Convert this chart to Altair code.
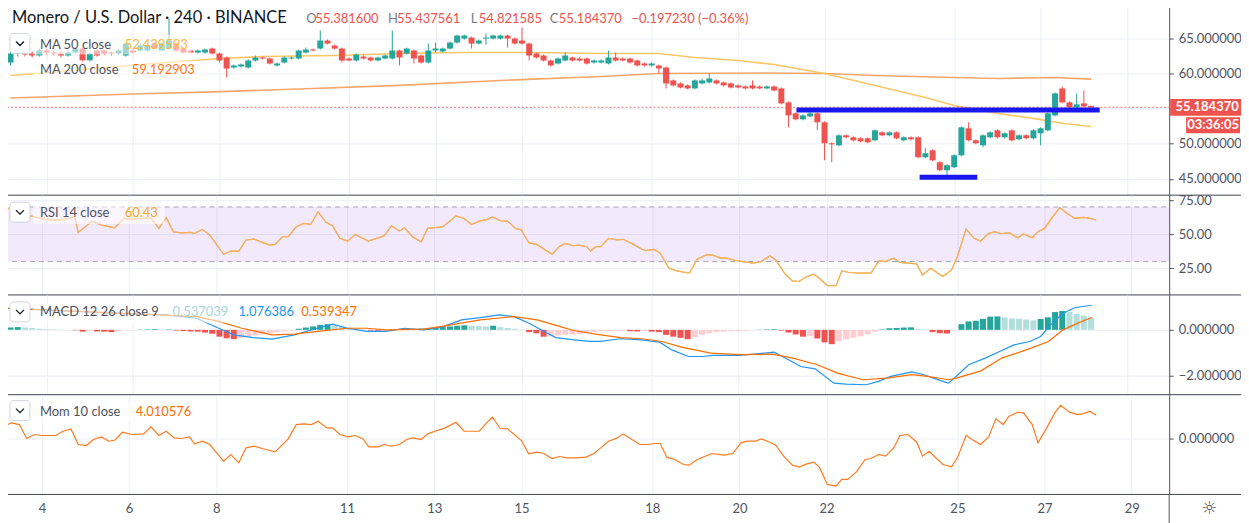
import altair as alt
import numpy as np
import pandas as pd

# ---------------- data ----------------
OPEN = [61.56, 62.84, 62.98, 62.84, 62.56, 63.27, 62.98, 62.84, 62.56, 62.98,
        63.55, 61.85, 63.27, 63.27, 62.98, 62.84, 62.56, 63.27, 63.27, 63.27,
        64.26, 63.27, 63.55, 64.26, 63.55, 63.27, 62.98, 62.98, 63.55, 62.84,
        62.27, 60.85, 60.99, 60.85, 61.85, 62.27, 62.13, 61.14, 61.56, 62.13,
        62.13, 62.98, 63.41, 63.55, 64.69, 63.98, 63.55, 62.13, 61.85, 62.41,
        62.27, 61.85, 62.13, 62.13, 63.27, 62.84, 63.27, 62.56, 61.56, 63.27,
        63.13, 63.55, 64.40, 64.97, 65.11, 64.26, 64.97, 64.97, 64.97, 65.40,
        64.97, 64.69, 64.26, 62.84, 62.56, 61.85, 61.42, 61.85, 62.27, 62.13,
        62.13, 61.56, 61.56, 61.42, 62.27, 62.13, 62.13, 61.85, 61.42, 61.14,
        61.14, 60.85, 59.01, 58.58, 58.30, 57.87, 58.58, 58.72, 59.01, 58.72,
        58.58, 58.30, 58.15, 58.30, 58.15, 57.87, 58.15, 57.87, 55.88, 54.32,
        53.47, 53.89, 54.32, 53.04, 50.06, 49.77, 51.19, 50.91, 50.77, 50.77,
        50.48, 51.62, 51.19, 51.62, 50.48, 50.91, 50.91, 48.07, 49.06, 47.36,
        46.22, 46.65, 48.35, 52.19, 50.48, 49.77, 50.91, 51.90, 50.91, 51.90,
        50.63, 51.19, 50.77, 51.48, 51.90, 54.03, 57.87, 55.88, 55.17, 55.74,
        55.38]
CLOSE = [62.84, 62.98, 62.70, 62.56, 63.27, 62.98, 62.84, 62.56, 62.98, 63.55,
         61.85, 62.84, 62.56, 62.84, 62.84, 63.27, 64.26, 62.98, 63.98, 63.98,
         63.55, 64.26, 64.69, 63.27, 62.98, 62.98, 63.27, 63.41, 62.84, 61.85,
         60.71, 61.14, 61.28, 61.85, 62.27, 62.13, 61.42, 61.42, 62.27, 62.27,
         63.27, 63.41, 63.27, 64.69, 64.26, 63.55, 61.85, 61.85, 62.70, 62.13,
         61.85, 62.27, 62.56, 63.27, 62.27, 63.55, 62.13, 61.56, 63.27, 63.55,
         63.55, 64.40, 65.40, 65.40, 64.26, 64.69, 65.11, 65.40, 65.40, 64.97,
         64.26, 64.26, 62.56, 62.27, 61.85, 61.14, 62.13, 62.56, 61.85, 61.85,
         61.42, 61.85, 61.85, 62.27, 61.85, 61.85, 61.56, 61.14, 61.14, 61.42,
         60.71, 58.58, 58.30, 58.01, 57.87, 59.01, 59.01, 59.29, 58.58, 58.30,
         58.01, 58.01, 57.87, 57.87, 57.87, 58.15, 57.59, 55.74, 54.03, 53.47,
         54.03, 54.32, 53.04, 50.06, 49.91, 51.19, 50.91, 50.48, 50.34, 50.20,
         51.90, 51.19, 51.62, 50.77, 50.91, 50.63, 48.07, 48.64, 47.64, 46.22,
         46.93, 48.35, 52.33, 50.48, 50.06, 51.19, 51.62, 50.91, 51.48, 50.48,
         51.19, 50.77, 51.90, 52.19, 54.32, 57.16, 55.88, 55.17, 55.60, 55.31,
         55.18]
HIGH = [63.55, 63.27, 63.13, 63.13, 63.55, 63.55, 63.27, 63.13, 63.27, 63.69,
        63.69, 62.98, 63.41, 63.41, 63.13, 63.41, 64.40, 63.55, 64.26, 64.12,
        64.40, 64.40, 67.81, 64.40, 63.69, 63.41, 63.41, 63.55, 63.69, 62.98,
        62.41, 61.28, 61.42, 61.99, 62.56, 62.41, 62.27, 61.56, 62.41, 62.41,
        63.41, 63.69, 63.55, 66.11, 64.83, 64.12, 63.69, 62.27, 62.84, 62.56,
        62.41, 62.41, 62.70, 66.11, 63.41, 63.69, 63.41, 62.70, 64.26, 64.40,
        63.69, 64.55, 65.54, 65.54, 65.25, 64.83, 65.68, 65.54, 65.54, 65.54,
        65.11, 66.53, 64.40, 62.98, 62.70, 61.99, 62.27, 62.98, 62.41, 62.27,
        62.27, 61.99, 61.99, 63.27, 62.98, 62.27, 62.27, 61.99, 61.56, 61.56,
        61.28, 60.99, 59.15, 58.72, 58.44, 59.15, 59.29, 60.00, 59.15, 58.86,
        58.72, 58.44, 58.30, 59.01, 58.30, 58.30, 58.30, 58.01, 56.02, 54.46,
        54.18, 55.03, 54.46, 53.18, 50.20, 51.33, 51.33, 51.05, 50.91, 50.91,
        52.05, 51.76, 51.76, 51.76, 51.05, 51.05, 51.05, 49.35, 49.20, 47.50,
        47.07, 48.50, 52.47, 53.04, 50.63, 51.33, 51.76, 52.05, 51.62, 52.05,
        51.33, 51.33, 52.05, 52.33, 54.46, 57.30, 58.15, 56.02, 57.16, 57.59,
        55.44]
LOW = [61.14, 62.41, 62.41, 62.27, 62.41, 62.70, 62.56, 62.27, 62.41, 62.84,
       61.56, 61.56, 62.41, 62.56, 62.56, 62.70, 62.41, 62.84, 63.13, 63.13,
       63.41, 63.13, 63.41, 63.13, 62.84, 62.84, 62.84, 62.84, 62.70, 61.56,
       59.43, 60.71, 60.85, 60.71, 61.71, 61.99, 61.28, 60.99, 61.42, 61.99,
       61.99, 62.84, 63.13, 63.41, 64.12, 63.41, 61.56, 61.71, 61.71, 61.99,
       61.71, 61.71, 61.99, 61.99, 61.14, 62.70, 61.42, 61.42, 61.42, 62.98,
       62.98, 63.41, 64.26, 64.83, 63.55, 64.12, 64.12, 64.83, 64.83, 63.69,
       64.12, 64.12, 61.85, 62.13, 61.71, 60.99, 61.28, 61.71, 61.71, 61.71,
       61.28, 61.42, 61.42, 61.28, 61.71, 61.71, 61.42, 60.99, 60.99, 60.99,
       60.00, 57.87, 58.15, 57.87, 57.73, 57.73, 58.44, 58.58, 58.44, 58.15,
       57.87, 57.87, 57.73, 57.73, 57.73, 57.73, 57.44, 55.60, 52.33, 53.33,
       53.33, 53.75, 51.90, 47.64, 47.36, 49.63, 50.77, 50.34, 50.20, 50.06,
       50.34, 51.05, 51.05, 50.63, 50.34, 50.48, 47.93, 47.93, 47.50, 46.08,
       45.23, 46.51, 48.21, 50.34, 49.91, 49.49, 50.77, 50.77, 50.77, 50.34,
       50.48, 50.63, 50.63, 49.77, 51.76, 53.89, 55.74, 55.03, 55.03, 55.17,
       54.82]

# moving averages (candle index, value)
MA50_I = [0, 7, 13, 20, 29, 35, 45, 54, 63, 72, 82, 90, 95, 101, 106, 113, 120, 127, 131, 137, 142, 146, 150]
MA50_V = [59.72, 60.28, 60.85, 61.42, 62.13, 62.41, 62.56, 62.84, 62.98, 62.98, 62.84, 62.84, 62.27, 61.85,
          61.28, 60.00, 58.30, 56.59, 55.45, 54.32, 53.61, 52.90, 52.44]
MA200_I = [0, 18, 27, 41, 54, 68, 82, 90, 105, 113, 120, 131, 137, 145, 150]
MA200_V = [56.50, 57.11, 57.34, 57.83, 58.30, 59.01, 59.57, 60.00, 60.07, 60.00, 59.72, 59.43, 59.29, 59.43, 59.19]

RSI_I = [-0.4, 0.8, 2.1, 4.0, 5.3, 6.9, 8.2, 9.5, 10.0, 11.9, 13.2, 15.0, 16.3, 17.6, 20.0, 21.1, 22.1, 23.1,
         24.2, 25.5, 26.0, 27.1, 28.1, 30.0, 31.0, 32.1, 33.1, 34.2, 36.3, 37.1, 38.1, 38.9, 40.0, 41.0, 42.0,
         43.0, 44.1, 45.0, 46.0, 47.1, 48.1, 49.9, 51.3, 52.1, 53.1, 54.2, 54.9, 56.0, 57.2, 58.1, 60.2, 62.0,
         63.1, 64.1, 65.2, 66.3, 67.0, 68.1, 69.1, 70.2, 71.0, 72.0, 73.1, 75.2, 76.2, 77.0, 78.1, 78.9, 80.0,
         80.5, 81.2,
         81.9, 83.0, 84.2, 85.0, 86.4, 87.6, 88.1, 89.3, 90.1, 91.3, 92.4, 94.1, 95.2, 96.4, 97.2, 98.4, 99.2,
         100.4, 101.5, 102.9, 104.0, 105.2, 106.0, 107.2, 108.3, 109.2, 110.3, 111.2, 112.0, 113.1, 114.3,
         115.1, 116.0, 117.4, 119.1, 120.2, 121.1, 122.2, 123.1, 124.2, 125.4, 126.2, 127.3, 129.0, 130.2,
         131.0, 132.2, 133.3, 134.2, 135.3, 136.2, 137.0, 138.1, 139.3, 140.1, 141.3, 142.1, 143.0, 144.1,
         145.1, 146.1, 147.2, 148.4, 149.2, 150.1]
RSI_V = [66.5, 70.1, 65.3, 62.8, 61.1, 60.4, 61.1, 62.8, 51.4, 59.6, 56.7, 54.8, 61.6, 61.1, 62.1, 54.3, 62.1, 51.8,
         51.1, 51.4, 50.6, 53.6, 49.4, 35.3, 37.7, 37.7, 45.8, 46.5, 42.1, 42.6, 48.2, 48.2, 55.5, 58.0, 57.2,
         66.5, 58.7, 56.2, 47.0, 45.0, 49.9, 45.0, 47.4, 48.9, 56.2, 52.3, 54.8, 48.2, 44.5, 54.3, 55.5, 63.5,
         61.6, 57.2, 59.6, 60.9, 62.8, 59.9, 59.6, 54.3, 53.1, 43.8, 42.6, 35.3, 40.9, 43.3, 41.6, 42.1, 40.9,
         37.7, 40.9,
         40.9, 47.0, 45.8, 46.3, 42.6, 39.0, 38.0, 39.0, 36.1, 25.1, 23.2, 21.5, 31.7, 34.9, 34.9, 32.5, 32.5,
         30.8, 30.0, 28.8, 30.0, 34.2, 31.2, 21.5, 15.9, 15.4, 19.0, 20.7, 17.8, 12.4, 12.4,
         23.2, 22.2, 21.5, 21.5, 30.5, 30.0, 32.5, 29.3, 28.8, 28.3, 20.2, 25.1, 19.0, 23.9,
         33.7, 53.9, 47.0, 45.1, 50.7, 51.9, 50.4, 51.2, 47.5, 50.2, 47.5, 51.9, 54.3, 62.8,
         69.6, 65.3, 61.6, 62.4, 61.6, 60.43]
RSI_LEVELS = [30, 70]

MACD_I = [-0.4, 4.8, 10.0, 15.3, 21.6, 25.8, 28.9, 31.0, 33.7, 36.3, 39.4, 42.6, 44.7, 46.8, 49.4, 52.1, 54.7,
          57.3, 59.9, 62.6, 65.2, 67.8, 69.9, 72.0, 74.1, 75.7, 78.3, 80.4,
          81.9, 84.7, 87.6, 90.1, 91.8, 94.1, 96.1, 97.5, 101.2, 102.3, 106.0, 108.0, 109.7, 111.7, 114.3,
          116.0, 118.8, 120.5, 122.2, 125.1, 126.8, 129.1, 130.2, 131.3, 133.0, 135.3, 137.3, 139.3, 141.5,
          143.0, 144.4, 146.1, 147.8, 150.1]
MACD_V = [0.95, 0.88, 0.80, 0.72, 0.66, 0.51, 0.07, -0.22, -0.34, -0.41, -0.22, 0.07, 0.25, 0.07, -0.07, -0.07,
          0.07, 0.00, 0.12, 0.44, 0.54, 0.66, 0.58, 0.29, -0.07, -0.34, -0.44, -0.51,
          -0.51, -0.39, -0.44, -0.54, -0.88, -1.17, -1.17, -1.12, -1.12, -1.09, -0.98, -1.31, -1.61, -1.71,
          -2.34, -2.38, -2.41, -2.26, -2.04, -1.85, -1.97, -2.23, -2.34, -2.04, -1.53, -1.24, -0.95, -0.66,
          -0.51, -0.29, 0.22, 0.73, 0.98, 1.08]
SIG_I = [-0.4, 10.0, 20.5, 25.8, 28.9, 32.1, 36.3, 39.4, 42.6, 46.8, 49.4, 52.1, 57.3, 59.9, 65.2, 69.9, 73.1,
         76.2, 78.3, 81.9, 84.7, 87.6, 90.4, 93.3, 97.2, 101.2, 105.8, 108.6, 112.0, 114.8, 118.3, 121.7,
         125.1, 127.3, 130.2, 131.3, 134.7, 137.6, 141.0, 144.1, 146.1, 148.4, 150.1]
SIG_V = [0.95, 0.80, 0.66, 0.58, 0.37, 0.07, -0.22, -0.19, -0.07, 0.07, 0.07, 0.00, 0.03, 0.15, 0.44, 0.58, 0.44,
         0.15, -0.04, -0.22, -0.34, -0.39, -0.51, -0.77, -1.02, -1.09, -1.07, -1.24, -1.53, -1.90, -2.19, -2.12,
         -1.97, -2.04, -2.19, -2.12, -1.80, -1.24, -0.88, -0.51, 0.00, 0.33, 0.54]
HIST = [0.10, 0.12, 0.10, 0.08, 0.05, 0.03, 0.02, 0.01, 0.00, -0.02,
        -0.08, -0.05, -0.07, -0.08, -0.10, -0.05, -0.02, 0.00, 0.01, 0.02,
        0.03, 0.01, 0.02, -0.03, -0.05, -0.07, -0.08, -0.12, -0.17, -0.30,
        -0.37, -0.41, -0.35, -0.30, -0.25, -0.20, -0.15, -0.10, -0.06, -0.02,
        0.05, 0.10, 0.15, 0.22, 0.25, 0.20, 0.15, 0.10, 0.05, 0.02,
        -0.03, -0.04, -0.02, 0.02, 0.03, 0.03, 0.04, 0.06, 0.08, 0.10,
        0.12, 0.15, 0.18, 0.20, 0.17, 0.16, 0.15, 0.18, 0.12, 0.08,
        0.05, 0.01, -0.10, -0.15, -0.30, -0.28, -0.25, -0.22, -0.20, -0.18,
        -0.12, -0.10, -0.08, -0.06, -0.05, -0.04, -0.06, -0.07, -0.05, -0.08,
        -0.10, -0.22, -0.30, -0.35, -0.41, -0.32, -0.22, -0.15, -0.10, -0.08,
        -0.06, -0.05, -0.03, -0.01, 0.01, 0.02, 0.03, -0.03, -0.12, -0.20,
        -0.30, -0.28, -0.38, -0.55, -0.63, -0.50, -0.42, -0.35, -0.28, -0.20,
        -0.08, 0.02, 0.07, 0.08, 0.10, 0.11, 0.04, 0.02, -0.10, -0.15,
        -0.16, -0.03, 0.25, 0.37, 0.40, 0.48, 0.58, 0.59, 0.55, 0.50,
        0.49, 0.45, 0.42, 0.48, 0.55, 0.78, 0.83, 0.78, 0.70, 0.62,
        0.54]

MOM_I = [-0.4, 0.8, 1.9, 2.9, 4.0, 5.0, 6.9, 7.9, 9.0, 10.0, 11.1, 12.1, 13.2, 14.2, 15.0, 16.1, 17.4, 19.0,
         20.0, 21.1, 22.1, 23.2, 24.2, 25.3, 26.0, 27.1, 28.1, 30.0, 31.0, 32.1, 33.1, 34.2, 35.8, 37.1, 38.9,
         40.0, 41.0, 42.1, 43.0, 44.2, 45.0, 46.0, 47.1, 48.1, 49.2, 50.0, 51.3, 52.1, 53.1, 54.2, 55.2, 56.0,
         57.2, 58.1, 59.4, 60.5, 62.0, 63.1, 65.2, 66.2, 67.0, 68.1, 69.1, 71.0, 72.0, 73.1, 74.1, 75.2, 76.2,
         77.3, 78.3, 79.9, 81.0, 81.9,
         83.0, 84.2, 85.0, 86.2, 87.3, 88.4, 89.3, 90.1, 91.0, 92.1, 93.3, 94.1, 95.2, 97.2, 98.9, 100.1, 101.2,
         102.1, 103.2, 104.0, 105.2, 106.0, 107.2, 108.3, 109.2, 110.3, 111.2, 112.0, 113.1, 114.3, 115.1,
         115.9, 117.1, 118.3, 119.1, 120.2, 121.1, 122.2, 123.1, 124.2, 125.4, 126.2, 127.1, 129.0, 130.2,
         131.0, 132.2, 133.0, 134.2, 135.3, 136.3, 137.3, 138.1, 139.3, 140.1, 141.3, 142.1, 143.3, 144.4,
         145.2, 146.4, 147.5, 148.4, 149.2, 150.1]
MOM_V = [2.04, 2.72, 2.43, 0.06, 0.74, 0.57, 0.57, 1.30, 1.70, -0.96, -1.13, -0.11, 0.34, -0.40, -0.23, 1.13,
         0.74, 0.85, 2.04, 0.57, 1.30, 0.17, 0.06, 0.34, -0.85, -0.40, -0.96, -3.79, -2.66, -4.08, -1.53, -1.25,
         -1.81, -2.21, 0.00, 2.43, 2.55, 2.43, 3.00, 1.87, 1.87, 0.74, 0.34, 0.57, 0.00, -1.36, -1.36, -0.96,
         -1.25, -0.96, -0.11, 0.17, -0.11, 0.85, 1.42, 1.87, 2.83, 1.30, 1.30, 2.72, 3.68, 1.76, 1.70, -0.28,
         -2.55, -2.27, -2.49, -3.34, -3.00, -3.23, -3.23, -3.11, -2.49, -1.53,
         -0.40, 0.17, 0.85, -0.11, -0.96, -0.96, -0.79, -0.79, -3.11, -3.51, -4.36, -4.47, -3.51, -2.49, -2.77,
         -2.49, -0.68, -0.40, -0.40, 0.00, -0.57, -1.08, -3.11, -4.47, -4.81, -4.25, -3.96, -4.81, -7.76, -8.04,
         -6.91, -6.91, -5.61, -3.51, -3.34, -2.66, -2.94, -1.64, 0.57, 0.74, -0.57, -2.94, -2.10, -4.36, -4.76,
         -3.23, 0.57, -0.11, -0.96, 0.34, 3.40, 2.43, 3.85, 4.53, 4.42, 2.43, -0.68, 1.87, 4.42, 5.72, 4.59,
         4.13, 4.30, 4.70, 4.01]

# drawn horizontal levels (start index, end index, price)
LEVEL_I1 = [109.1, 126.2]
LEVEL_I2 = [151.2, 134.2]
LEVEL_P = [54.79, 45.23]

DAY_LABELS = [4, 6, 8, 11, 13, 15, 18, 20, 22, 25, 27, 29]
PRICE_TICKS = [45, 50, 55, 60, 65, 70]
RSI_TICKS = [25, 50, 75]
MACD_TICKS = [-2, 0]
MOM_TICKS = [0]
LAST_PRICE = 55.184370

# ---------------- styling / layout ----------------
FONT = "Lato"
W = 1170
H_PRICE, H_SUB = 195, 100
FULL_W = 1249
SEP = "#434651"
AX = "#50535e"
UP, DOWN = "#26a69a", "#ef5350"

n = len(CLOSE)
candles = pd.DataFrame({"i": np.arange(n), "open": OPEN, "high": HIGH, "low": LOW, "close": CLOSE})
candles["dir"] = np.where(candles["close"] >= candles["open"], "up", "down")

hist = pd.DataFrame({"i": np.arange(len(HIST)), "h": HIST})
prev = hist["h"].shift(1).fillna(-1)
hist["c"] = np.where(hist["h"] >= 0,
                     np.where(hist["h"] >= prev, "pu", "pd"),
                     np.where(hist["h"] <= prev, "nd", "nu"))

tick_idx = [6 * d - 19 for d in DAY_LABELS]
XS = alt.Scale(domain=[-0.49, 160.15], nice=False, zero=False)
X_GRID = alt.Axis(values=tick_idx, labels=False, ticks=False, tickSize=0, domain=False, grid=True, title=None)
X_BOTTOM = alt.Axis(values=tick_idx, labelExpr="format((datum.value + 19) / 6, 'd')", ticks=False, tickSize=0,
                    domain=False, grid=True, title=None, labelPadding=8, labelFontSize=13)

PS = alt.Scale(domain=[42.67, 70.37], nice=False, zero=False)
RS = alt.Scale(domain=[5.56, 78.65], nice=False, zero=False)
MS = alt.Scale(domain=[-2.847, 1.533], nice=False, zero=False)
OS = alt.Scale(domain=[-9.46, 7.52], nice=False, zero=False)


def yaxis(values, fmt=".6f", expr=None):
    kw = dict(orient="right", values=values, title=None, grid=True, tickSize=4, labelPadding=5, domain=True)
    if expr:
        kw["labelExpr"] = expr
    else:
        kw["format"] = fmt
    return alt.Axis(**kw)


Y_PRICE = yaxis(PRICE_TICKS, expr="datum.value == 55 ? '' : format(datum.value, '.6f')")
Y_RSI = yaxis(RSI_TICKS, fmt=".2f")
Y_MACD = yaxis(MACD_TICKS)
Y_MOM = yaxis(MOM_TICKS)

ONE = pd.DataFrame({"k": [0]})


def txt(text, x, y, color, size=13, weight="normal", align="left", font=FONT):
    return alt.Chart(ONE).mark_text(text=text, align=align, baseline="middle", font=font, fontSize=size,
                                    fontWeight=weight, color=color).encode(x=alt.value(x), y=alt.value(y))


def rect(x1, x2, y1, y2, fill, opacity=1.0, stroke=None, radius=0):
    kw = dict(fill=fill, opacity=opacity, cornerRadius=radius)
    if stroke:
        kw.update(stroke=stroke, strokeWidth=1)
    else:
        kw.update(strokeWidth=0)
    return alt.Chart(ONE).mark_rect(**kw).encode(x=alt.value(x1), x2=alt.value(x2), y=alt.value(y1),
                                                 y2=alt.value(y2))


def chevron(ytop):
    b = rect(8, 28, ytop, ytop + 20, "#ffffff", stroke="#d1d4dc", radius=3)
    c = alt.Chart(ONE).mark_point(shape="M-1,-0.5L0,0.5L1,-0.5", size=64, filled=False, strokeWidth=1.3,
                                  color="#131722", opacity=1).encode(x=alt.value(18), y=alt.value(ytop + 10))
    return [b, c]


def separator(h):
    return alt.Chart(ONE).mark_rule(color=SEP, strokeWidth=1).encode(x=alt.value(1), x2=alt.value(FULL_W),
                                                                      y=alt.value(h))


# ---------------- price panel ----------------
ma50 = pd.DataFrame({"i": MA50_I, "v": MA50_V})
ma200 = pd.DataFrame({"i": MA200_I, "v": MA200_V})
lvl = pd.DataFrame({"i1": LEVEL_I1, "i2": LEVEL_I2, "p": LEVEL_P})
last = pd.DataFrame({"p": [LAST_PRICE]})

dir_color = alt.Color("dir:N", scale=alt.Scale(domain=["up", "down"], range=[UP, DOWN]), legend=None)


def PX(f):
    return alt.X(f"{f}:Q", scale=XS, axis=X_GRID)


def PY(f):
    return alt.Y(f"{f}:Q", scale=PS, axis=Y_PRICE)


l_ma200 = alt.Chart(ma200).mark_line(color="#f9a66b", strokeWidth=1.6).encode(x=PX("i"), y=PY("v"))
l_ma50 = alt.Chart(ma50).mark_line(color="#fcc766", strokeWidth=1.6).encode(x=PX("i"), y=PY("v"))
l_last = alt.Chart(last).mark_rule(color=DOWN, strokeDash=[2, 2], strokeWidth=1, opacity=0.8).encode(
    y=PY("p"), x=alt.value(1), x2=alt.value(W))
wicks = alt.Chart(candles).mark_rule(strokeWidth=1).encode(x=PX("i"), y=PY("low"), y2="high:Q", color=dir_color)
bodies = alt.Chart(candles).mark_bar(size=6).encode(x=PX("i"), y=PY("open"), y2="close:Q", color=dir_color)
levels = alt.Chart(lvl).mark_rule(color="#1818ee", strokeWidth=5).encode(x=PX("i1"), x2="i2:Q", y=PY("p"))

price_box = alt.Chart(last).mark_point(shape="M-1,-0.215H1V0.215H-1Z", size=78 * 78, filled=True, opacity=1,
                                       color=DOWN, strokeWidth=0).encode(x=alt.value(1210), y=PY("p"))
price_txt = alt.Chart(last).mark_text(text="55.184370", font=FONT, fontSize=13, fontWeight="bold", color="white",
                                      align="center", baseline="middle").encode(x=alt.value(1208), y=PY("p"))
timer_box = alt.Chart(last).mark_point(shape="M-1,-0.3H1V0.3H-1Z", size=54 * 54, filled=True, opacity=1,
                                       color=DOWN, strokeWidth=0, yOffset=18).encode(x=alt.value(1214), y=PY("p"))
timer_txt = alt.Chart(last).mark_text(text="03:36:05", font=FONT, fontSize=13, fontWeight="bold", color="white",
                                      align="center", baseline="middle", yOffset=18).encode(
    x=alt.value(1214), y=PY("p"))

price_layers = [
    l_ma200, l_ma50, l_last, wicks, bodies, levels,
    rect(31, 190, 34, 54, "#ffffff", opacity=0.55),
    rect(31, 196, 60, 80, "#ffffff", opacity=0.55),
    *chevron(33),
    txt("Monero / U.S. Dollar · 240 · BINANCE", 10, 17, "#131722", size=16.5),
    txt("O", 305, 18, "#787b86"), txt("55.381600", 314, 18, DOWN),
    txt("H", 387, 18, "#787b86"), txt("55.437561", 396, 18, DOWN),
    txt("L", 470, 18, "#787b86"), txt("54.821585", 478, 18, DOWN),
    txt("C", 549, 18, "#787b86"), txt("55.184370", 558, 18, DOWN),
    txt("−0.197230 (−0.36%)", 631, 18, DOWN),
    txt("MA 50 close", 38, 44, "#4c525e"), txt("52.439593", 123, 44, "#f6b73c"),
    txt("MA 200 close", 38, 70, "#4c525e"), txt("59.192903", 130, 70, "#ff7517"),
    price_box, price_txt, timer_box, timer_txt,
    separator(H_PRICE),
]
price_panel = alt.layer(*price_layers).properties(width=W, height=H_PRICE)

# ---------------- RSI panel ----------------
rsi = pd.DataFrame({"i": RSI_I, "v": RSI_V})
band = pd.DataFrame({"lo": [min(RSI_LEVELS)], "hi": [max(RSI_LEVELS)]})
lv = pd.DataFrame({"v": RSI_LEVELS})


def RY(f):
    return alt.Y(f"{f}:Q", scale=RS, axis=Y_RSI)


rsi_band = alt.Chart(band).mark_rect(fill="#8e24e0", opacity=0.1).encode(
    x=alt.value(1), x2=alt.value(W), y=RY("lo"), y2="hi:Q")
rsi_lv = alt.Chart(lv).mark_rule(color="#a3a6b0", strokeDash=[5, 4], strokeWidth=1).encode(
    x=alt.value(1), x2=alt.value(W), y=RY("v"))
rsi_line = alt.Chart(rsi).mark_line(color="#f7b35a", strokeWidth=1.2).encode(x=PX("i"), y=RY("v"))
rsi_panel = alt.layer(
    rsi_line, rsi_band, rsi_lv, rsi_line,
    rect(31, 163, 8, 29, "#ffffff", opacity=0.55),
    *chevron(7),
    txt("RSI 14 close", 38, 18, "#4c525e"), txt("60.43", 123, 18, "#f5a623"),
    separator(H_SUB),
).properties(width=W, height=H_SUB)

# ---------------- MACD panel ----------------
macd = pd.DataFrame({"i": MACD_I, "v": MACD_V})
sig = pd.DataFrame({"i": SIG_I, "v": SIG_V})


def MY(f):
    return alt.Y(f"{f}:Q", scale=MS, axis=Y_MACD)


hbars = alt.Chart(hist).mark_bar(size=6).encode(
    x=PX("i"), y=MY("h"), y2=alt.datum(0),
    color=alt.Color("c:N", scale=alt.Scale(domain=["pu", "pd", "nd", "nu"],
                                           range=["#26a69a", "#b2dfdb", "#ef5350", "#ffcdd2"]), legend=None))
macd_line = alt.Chart(macd).mark_line(color="#2196f3", strokeWidth=1.2).encode(x=PX("i"), y=MY("v"))
sig_line = alt.Chart(sig).mark_line(color="#ff6d00", strokeWidth=1.2).encode(x=PX("i"), y=MY("v"))
macd_panel = alt.layer(
    hbars, macd_line, sig_line,
    rect(31, 362, 7, 28, "#ffffff", opacity=0.55),
    *chevron(7),
    txt("MACD 12 26 close 9", 38, 17, "#4c525e"),
    txt("0.537039", 171, 17, "#a6d9d3"), txt("1.076386", 237, 17, "#2196f3"), txt("0.539347", 300, 17, "#ff6d00"),
    separator(H_SUB),
).properties(width=W, height=H_SUB)

# ---------------- Momentum panel ----------------
mom = pd.DataFrame({"i": MOM_I, "v": MOM_V})
mom_line = alt.Chart(mom).mark_line(color="#ff7a1f", strokeWidth=1.2).encode(
    x=alt.X("i:Q", scale=XS, axis=X_BOTTOM), y=alt.Y("v:Q", scale=OS, axis=Y_MOM))
right_ext = alt.Chart(ONE).mark_rule(color=AX, strokeWidth=1).encode(
    x=alt.value(W), y=alt.value(H_SUB), y2=alt.value(H_SUB + 30))
mom_panel = alt.layer(
    mom_line,
    rect(31, 196, 7, 28, "#ffffff", opacity=0.55),
    *chevron(6),
    txt("Mom 10 close", 38, 17, "#4c525e"), txt("4.010576", 134, 17, "#ff6d00"),
    separator(H_SUB), right_ext,
    txt("☼", 1210, H_SUB + 15, "#50535e", size=18, align="center", font="DejaVu Sans"),
).properties(width=W, height=H_SUB)

chart = alt.vconcat(price_panel, rsi_panel, macd_panel, mom_panel, spacing=0, bounds="flush").resolve_scale(
    color="independent"
).properties(
    padding={"left": -8, "top": -12, "right": -8, "bottom": 0}
).configure_view(stroke=None).configure_axis(
    gridColor="#eceff4", gridWidth=1, domainColor=AX, tickColor=AX, labelColor=AX,
    labelFont=FONT, labelFontSize=13
)

chart.save("out.html", embed_options={"renderer": "svg", "actions": False})
